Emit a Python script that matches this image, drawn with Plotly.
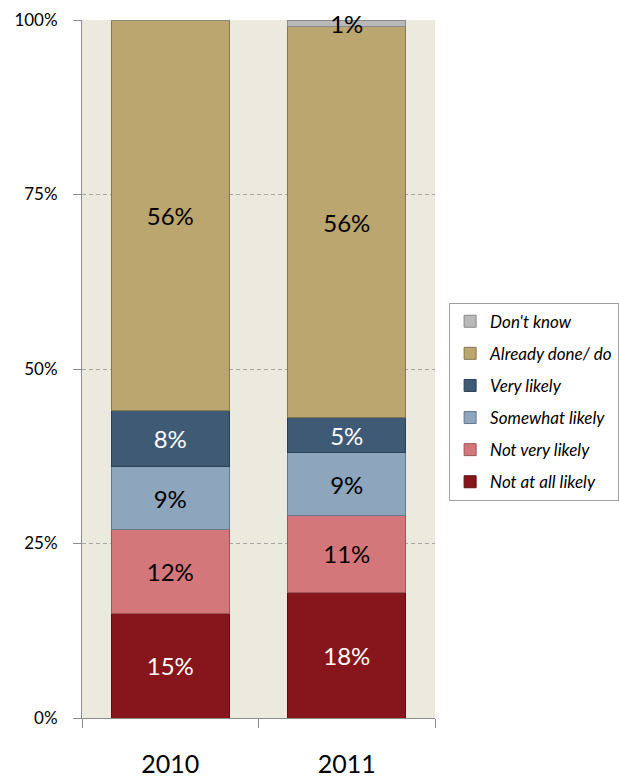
import plotly.graph_objects as go

years = ["2010", "2011"]
series_names = ["Not at all likely", "Not very likely", "Somewhat likely",
                "Very likely", "Already done/ do", "Don't know"]
not_at_all = [15, 18]
not_very = [12, 11]
somewhat = [9, 9]
very = [8, 5]
already = [56, 56]
dont_know = [0, 1]

colors = ["#86161B", "#D4777A", "#8DA5BD", "#3F5A75", "#BAA66E", "#B9B9B9"]
edge_colors = ["#5E0F12", "#9A5557", "#66788A", "#2C3F52", "#857750", "#8A8A8A"]
text_colors = ["white", "black", "black", "white", "black", "black"]
values = [not_at_all, not_very, somewhat, very, already, dont_know]

FONT = "Lato"

fig = go.Figure()
n = len(series_names)
for i, (name, vals) in enumerate(zip(series_names, values)):
    labels = [f"{v}%" if v > 0 else "" for v in vals]
    fig.add_trace(go.Bar(
        x=years, y=vals, name=name,
        marker=dict(color=colors[i], line=dict(color=edge_colors[i], width=1)),
        text=labels, textposition="inside", insidetextanchor="middle",
        constraintext="none", cliponaxis=False,
        textfont=dict(family=FONT, size=24, color=text_colors[i]),
        legendgroup=name, legendrank=(n - i) * 10, hoverinfo="skip",
    ))

fig.update_layout(
    barmode="stack",
    bargap=0.33,
    width=619, height=779,
    margin=dict(l=82, r=184, t=20, b=61, autoexpand=False),
    paper_bgcolor="white",
    plot_bgcolor="#ECE9DF",
    font=dict(family=FONT, color="black"),
    showlegend=True,
    legend=dict(
        x=1.04, y=0.595, xanchor="left", yanchor="top",
        traceorder="grouped", tracegroupgap=7,
        bordercolor="#A0A0A0", borderwidth=1, bgcolor="white",
        font=dict(family=FONT, size=17, style="italic", color="black"),
        itemwidth=30,
    ),
)

fig.update_yaxes(
    range=[0, 100], tickvals=[0, 25, 50, 75, 100],
    ticktext=["0%", "25%", "50%", "75%", "100%"],
    showgrid=True, gridcolor="#A6A6A6", griddash="4px,3px", gridwidth=1,
    showline=True, linecolor="#8C8C8C", linewidth=1,
    ticks="outside", ticklen=8, tickcolor="#8C8C8C",
    tickfont=dict(family=FONT, size=17, color="black"),
    ticklabelstandoff=12,
    zeroline=False, automargin=False,
)
fig.update_xaxes(
    showline=True, linecolor="#8C8C8C", linewidth=1,
    ticks="outside", ticklen=9, tickcolor="#8C8C8C",
    tickson="boundaries",
    tickfont=dict(family=FONT, size=25, color="black"),
    ticklabelstandoff=24, automargin=False,
)

fig.write_html("out.html")
